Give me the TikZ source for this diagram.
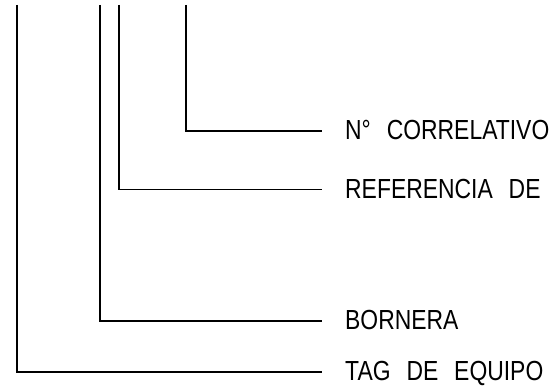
\documentclass[tikz,border=0pt]{standalone}
\usepackage{fontspec}
\newfontfamily\cadfont[FakeStretch=0.83, WordSpace=2.5]{Liberation Sans}
\begin{document}
\begin{tikzpicture}[x=1pt,y=-1pt,
  leader/.style={line width=1.8pt, line cap=butt, line join=miter},
  lbl/.style={anchor=base west, inner sep=0pt, font=\cadfont\fontsize{27.6}{32}\selectfont}]
\useasboundingbox (0,0) rectangle (557,387);
% tops of the leaders
\coordinate (t1) at (17,5);
\coordinate (t2) at (100,5);
\coordinate (t3) at (119,5);
\coordinate (t4) at (186,5);
% right ends of the leaders
\coordinate (e1) at (322,372);
\coordinate (e2) at (322,321);
\coordinate (e3) at (322,189.5);
\coordinate (e4) at (322,131);
% labels
\node[lbl] (l1) at (345,380.8) {TAG DE EQUIPO};
\node[lbl] (l2) at (345,329.8) {BORNERA};
\node[lbl] (l3) at (345,198.3) {REFERENCIA DE};
\node[lbl] (l4) at (345,139.8) {N° CORRELATIVO};
% leaders
\draw[leader] (t1) |- (e1);
\draw[leader] (t2) |- (e2);
\draw[leader] (t3) |- (e3);
\draw[leader] (t4) |- (e4);
\end{tikzpicture}
\end{document}
